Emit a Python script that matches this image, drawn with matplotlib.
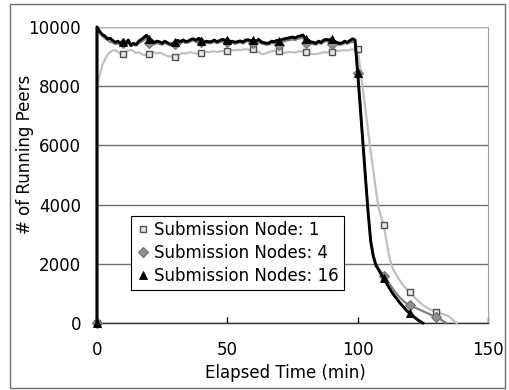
import numpy as np
import matplotlib
matplotlib.use("Agg")
import matplotlib.pyplot as plt
from matplotlib.lines import Line2D
from matplotlib.patches import Rectangle

# ---------------- data ----------------
# time (min) per series; the first point (0, 0) is the start marker
t_node1 = [0] + list(range(0, 139))
peers_node1 = [0,
    7980, 8350, 8700, 8900, 9050, 9150, 9200, 9220, 9150, 9120,
    9100, 9150, 9200, 9230, 9180, 9120, 9150, 9100, 9050, 9080,
    9080, 9120, 9150, 9100, 9130, 9110, 9060, 9020, 9000, 9010,
    9000, 9050, 9090, 9120, 9100, 9130, 9150, 9120, 9100, 9110,
    9110, 9140, 9160, 9150, 9170, 9180, 9150, 9170, 9190, 9180,
    9190, 9200, 9220, 9210, 9230, 9220, 9240, 9250, 9230, 9240,
    9240, 9200, 9150, 9100, 9080, 9120, 9150, 9170, 9200, 9180,
    9200, 9150, 9120, 9140, 9160, 9150, 9130, 9170, 9180, 9160,
    9170, 9140, 9100, 9080, 9090, 9100, 9120, 9150, 9140, 9160,
    9150, 9180, 9200, 9190, 9210, 9220, 9200, 9230, 9240, 9250,
    9250, 8600, 7900, 7200, 6500, 5800, 5150, 4500, 3900, 3600,
    3300, 2800, 2300, 1950, 1750, 1600, 1450, 1330, 1220, 1120,
    1060, 950, 850, 760, 680, 610, 550, 500, 450, 410,
    380, 350, 320, 290, 260, 220, 150, 60, 0]

t_node4 = [0] + list(range(0, 135))
peers_node4 = [0,
    10000, 9800, 9700, 9620, 9560, 9500, 9480, 9420, 9450, 9400,
    9470, 9400, 9480, 9350, 9400, 9380, 9450, 9500, 9560, 9620,
    9450, 9480, 9420, 9450, 9430, 9400, 9460, 9420, 9380, 9400,
    9420, 9480, 9450, 9500, 9460, 9480, 9520, 9550, 9500, 9560,
    9480, 9430, 9470, 9450, 9460, 9500, 9450, 9480, 9520, 9500,
    9480, 9450, 9470, 9430, 9460, 9480, 9440, 9500, 9520, 9490,
    9450, 9470, 9500, 9450, 9420, 9400, 9410, 9460, 9440, 9480,
    9400, 9500, 9530, 9550, 9560, 9580, 9560, 9600, 9620, 9640,
    9450, 9480, 9430, 9420, 9400, 9460, 9430, 9500, 9520, 9500,
    9420, 9460, 9420, 9400, 9410, 9460, 9430, 9480, 9500, 9480,
    8450, 7300, 6100, 4900, 3750, 2800, 2300, 2000, 1850, 1720,
    1600, 1480, 1350, 1220, 1100, 980, 880, 790, 710, 650,
    610, 560, 520, 480, 440, 400, 360, 320, 280, 240,
    200, 160, 110, 50, 0]

t_node16 = [0] + list(range(0, 126))
peers_node16 = [0,
    10000, 9850, 9750, 9700, 9600, 9620, 9550, 9480, 9520, 9450,
    9500, 9430, 9560, 9380, 9450, 9400, 9520, 9580, 9650, 9720,
    9600, 9550, 9480, 9520, 9500, 9450, 9520, 9470, 9420, 9430,
    9480, 9550, 9500, 9560, 9510, 9520, 9580, 9600, 9550, 9620,
    9530, 9480, 9520, 9500, 9510, 9560, 9500, 9540, 9580, 9560,
    9550, 9500, 9520, 9480, 9510, 9530, 9490, 9560, 9570, 9540,
    9560, 9520, 9580, 9500, 9470, 9450, 9460, 9520, 9500, 9550,
    9520, 9580, 9600, 9620, 9640, 9660, 9630, 9680, 9700, 9730,
    9600, 9560, 9500, 9480, 9450, 9520, 9480, 9560, 9580, 9560,
    9600, 9520, 9480, 9450, 9460, 9520, 9480, 9540, 9600, 9560,
    8450, 7300, 6100, 4900, 3750, 2750, 2250, 1950, 1800, 1650,
    1520, 1350, 1200, 1060, 930, 820, 700, 600, 500, 400,
    330, 250, 180, 110, 50, 0]

labels = ["Submission Node: 1", "Submission Nodes: 4", "Submission Nodes: 16"]
x_ticks = [0, 50, 100, 150]
y_ticks = [0, 2000, 4000, 6000, 8000, 10000]

# ---------------- figure ----------------
plt.rcParams["font.family"] = ["DejaVu Sans"]
fig = plt.figure(figsize=(5.09, 3.90), dpi=100)
ax = fig.add_axes([97 / 509, 1 - 323 / 390, (488 - 97) / 509, (323 - 27) / 390])

# outer border of the chart area
fig.patches.append(Rectangle((10 / 509, 1 - 388 / 390), 495 / 509, 384 / 390,
                             transform=fig.transFigure, fill=False,
                             edgecolor="#707070", linewidth=1.0))


def marks(t):
    # marker at the start point and every 10 minutes
    return [0] + [i for i in range(2, len(t)) if t[i] % 10 == 0]


styles = [
    dict(color="#c0c0c0", lw=1.6, marker="s", ms=4.0, mfc="#e8e8e8",
         mec="#505050", mew=1.0, zorder=3),
    dict(color="#808080", lw=1.6, marker="D", ms=5.0, mfc="#909090",
         mec="#707070", mew=0.8, zorder=4),
    dict(color="black", lw=2.1, marker="^", ms=5.5, mfc="black",
         mec="black", mew=0.6, zorder=5),
]
series = [(t_node1, peers_node1), (t_node4, peers_node4), (t_node16, peers_node16)]
for (t, v), st in zip(series, styles):
    ax.plot(t, v, markevery=marks(t), clip_on=False, **st)

ax.set_xlim(0, 150)
ax.set_ylim(0, 10000)
ax.set_xticks(x_ticks)
ax.set_yticks(y_ticks)
ax.tick_params(axis="x", direction="in", length=4, width=1, labelsize=12,
               pad=13, colors="black")
ax.tick_params(axis="y", length=0, labelsize=12, pad=11.5)

ax.grid(axis="y", color="#707070", linewidth=1.0)
ax.set_axisbelow(True)
ax.spines["top"].set_color("#b0b0b0")
ax.spines["right"].set_color("#a0a0a0")
ax.spines["left"].set_color("black")
ax.spines["left"].set_linewidth(1.6)
ax.spines["bottom"].set_color("#303030")
ax.spines["bottom"].set_linewidth(1.0)

ax.set_xlabel("Elapsed Time (min)", fontsize=12)
ax.xaxis.set_label_coords((285 - 97) / 391, -(382 - 323) / 296)
ax.xaxis.label.set_va("bottom")
ax.set_ylabel("# of Running Peers", fontsize=12)
ax.yaxis.set_label_coords(-(97 - 34) / 391, (323 - 154.5) / 296)

handles = [Line2D([], [], linestyle="none", marker=st["marker"], ms=st["ms"],
                  mfc=st["mfc"], mec=st["mec"], mew=st["mew"]) for st in styles]
leg = ax.legend(handles, labels, loc="lower left", bbox_to_anchor=(0.087, 0.111),
                fontsize=12, frameon=True, fancybox=False, framealpha=1,
                edgecolor="black", handlelength=0.8, handletextpad=0.3,
                borderpad=0.3, labelspacing=0.3, borderaxespad=0)
leg.get_frame().set_linewidth(0.8)

fig.savefig("out.png", dpi=100)
